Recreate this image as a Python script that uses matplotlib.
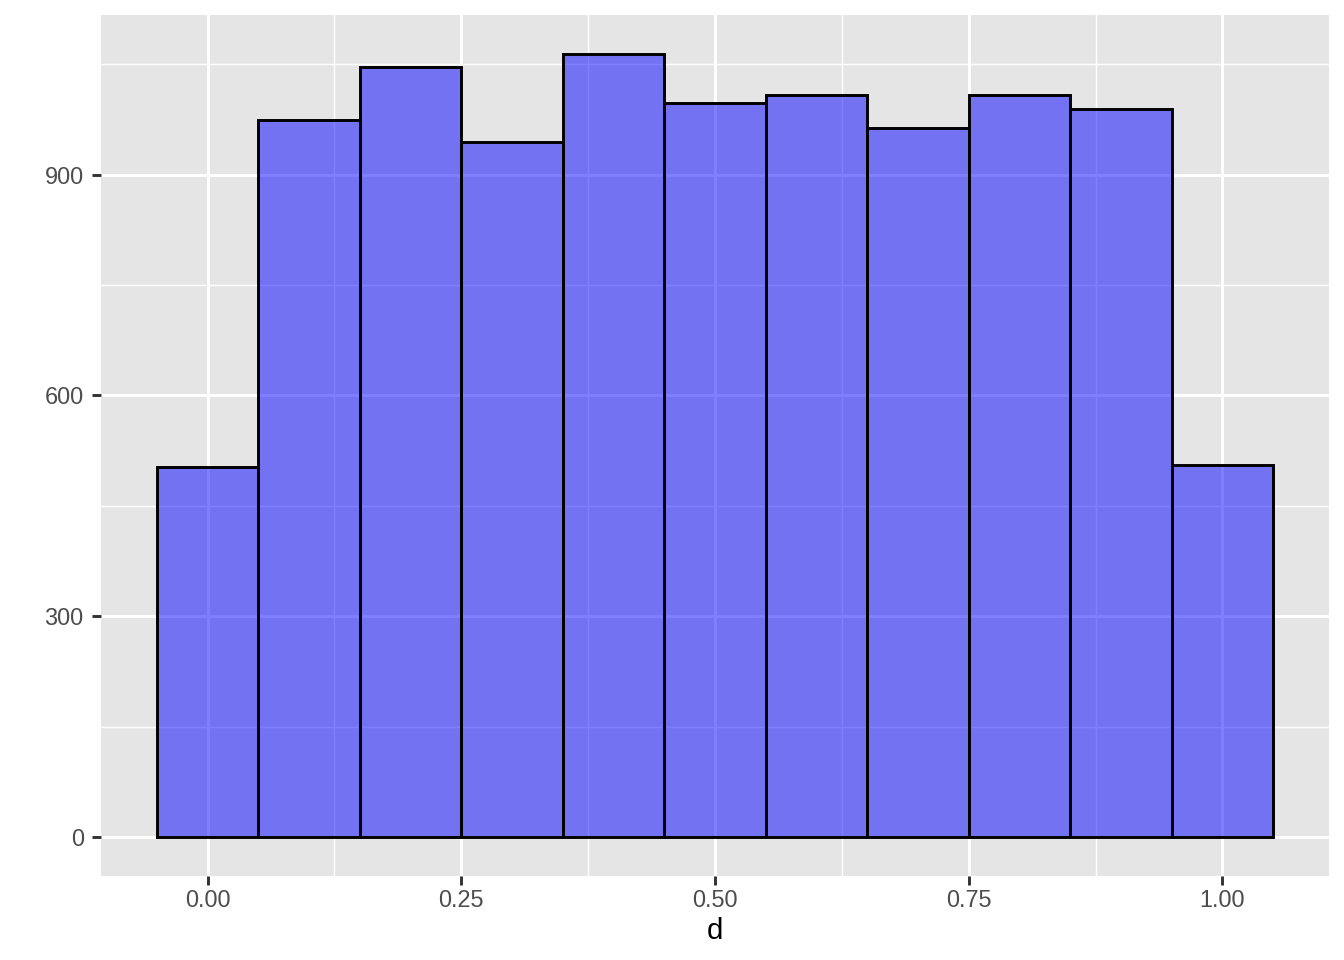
"""
Histogram of d, ggplot-style
"""

import numpy as np
import matplotlib as mpl
import matplotlib.pyplot as plt
from matplotlib.ticker import MultipleLocator

# bin edges and counts
bin_edges = [-0.05, 0.05, 0.15, 0.25, 0.35, 0.45, 0.55, 0.65, 0.75, 0.85, 0.95, 1.05]
counts = [503, 975, 1046, 944, 1064, 998, 1009, 964, 1009, 990, 506]
x_ticks = [0.0, 0.25, 0.5, 0.75, 1.0]
x_tick_labels = ['0.00', '0.25', '0.50', '0.75', '1.00']
y_ticks = [0, 300, 600, 900]
x_label = 'd'

mpl.rcParams.update({
    'font.family': ['Liberation Sans', 'DejaVu Sans'],
    'figure.facecolor': 'white',
})

fig = plt.figure(figsize=(7, 5), dpi=192)
ax = fig.add_axes([101 / 1344, 1 - 876 / 960, (1329 - 101) / 1344, (876 - 15) / 960])

ax.set_facecolor('#E5E5E5')
for s in ax.spines.values():
    s.set_visible(False)

edges = np.array(bin_edges)
widths = np.diff(edges)
ax.bar(edges[:-1], counts, width=widths, align='edge',
       facecolor=(0, 0, 1, 0.5), edgecolor='black', linewidth=1.1, zorder=3)

# limits with ggplot's 5% expansion
xr = edges[-1] - edges[0]
ax.set_xlim(edges[0] - 0.05 * xr, edges[-1] + 0.05 * xr)
ymax = max(counts)
ax.set_ylim(-0.05 * ymax, ymax * 1.05)

ax.set_xticks(x_ticks)
ax.set_xticklabels(x_tick_labels)
ax.set_yticks(y_ticks)
ax.xaxis.set_minor_locator(MultipleLocator(0.125))
ax.yaxis.set_minor_locator(MultipleLocator(150))

ax.grid(True, which='major', color='white', linewidth=1.1, zorder=1)
ax.grid(True, which='minor', color='white', linewidth=0.55, zorder=1)
ax.set_axisbelow(True)

ax.tick_params(which='major', length=3.5, width=1.1, color='#333333',
               labelsize=8.8, labelcolor='#4D4D4D', pad=3)
ax.tick_params(axis='x', which='major', pad=1.2)
ax.tick_params(which='minor', length=0)

ax.set_xlabel(x_label, fontsize=11, color='black', labelpad=2)

fig.savefig('out.png', dpi=192)
